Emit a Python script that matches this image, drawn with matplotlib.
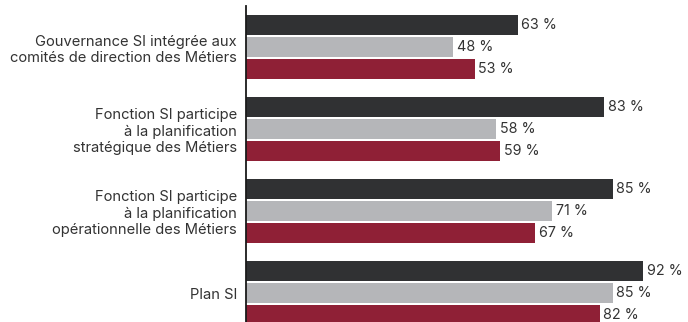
import matplotlib
matplotlib.use("Agg")
import matplotlib.pyplot as plt
import numpy as np

# Data
categories = [
    "Gouvernance SI intégrée aux\ncomités de direction des Métiers",
    "Fonction SI participe\nà la planification\nstratégique des Métiers",
    "Fonction SI participe\nà la planification\nopérationnelle des Métiers",
    "Plan SI",
]
series_dark = [63, 83, 85, 92]
series_gray = [48, 58, 71, 85]
series_red = [53, 59, 67, 82]

colors = ["#303133", "#b5b6b9", "#8f2036"]
text_color = "#333333"

plt.rcParams["font.family"] = ["Inter", "DejaVu Sans"]

W, H, DPI = 688, 322, 100
fig = plt.figure(figsize=(W / DPI, H / DPI), dpi=DPI)

x0_px, px_per_pct = 245.7, 4.318
ax = fig.add_axes([x0_px / W, 0, 100 * px_per_pct / W, 1])

pitch_px = 22.2
group_step = 82 / pitch_px
first_center = 24.85 / pitch_px
bar_h = 19.7 / pitch_px

g = np.arange(len(categories))
for j, (vals, c) in enumerate(zip([series_dark, series_gray, series_red], colors)):
    y = first_center + g * group_step + j
    bars = ax.barh(y, vals, height=bar_h, color=c, linewidth=0)
    ax.bar_label(bars, labels=[f"{v} %" for v in vals], padding=2.6,
                 fontsize=10.3, color=text_color)

ax.set_xlim(0, 100)
ax.set_ylim(H / pitch_px, 0)

ax.set_yticks(first_center + g * group_step + 1)
ax.set_yticklabels(categories, fontsize=10.6, color=text_color,
                   linespacing=1.2)
ax.tick_params(axis="y", length=0, pad=6.2)
ax.set_xticks([])

for s in ["top", "right", "bottom"]:
    ax.spines[s].set_visible(False)
ax.spines["left"].set_color("#1a1a1a")
ax.spines["left"].set_linewidth(1.3)
ax.spines["left"].set_bounds(6 / pitch_px, H / pitch_px)
ax.patch.set_alpha(0)

fig.savefig("out.png", dpi=DPI)
